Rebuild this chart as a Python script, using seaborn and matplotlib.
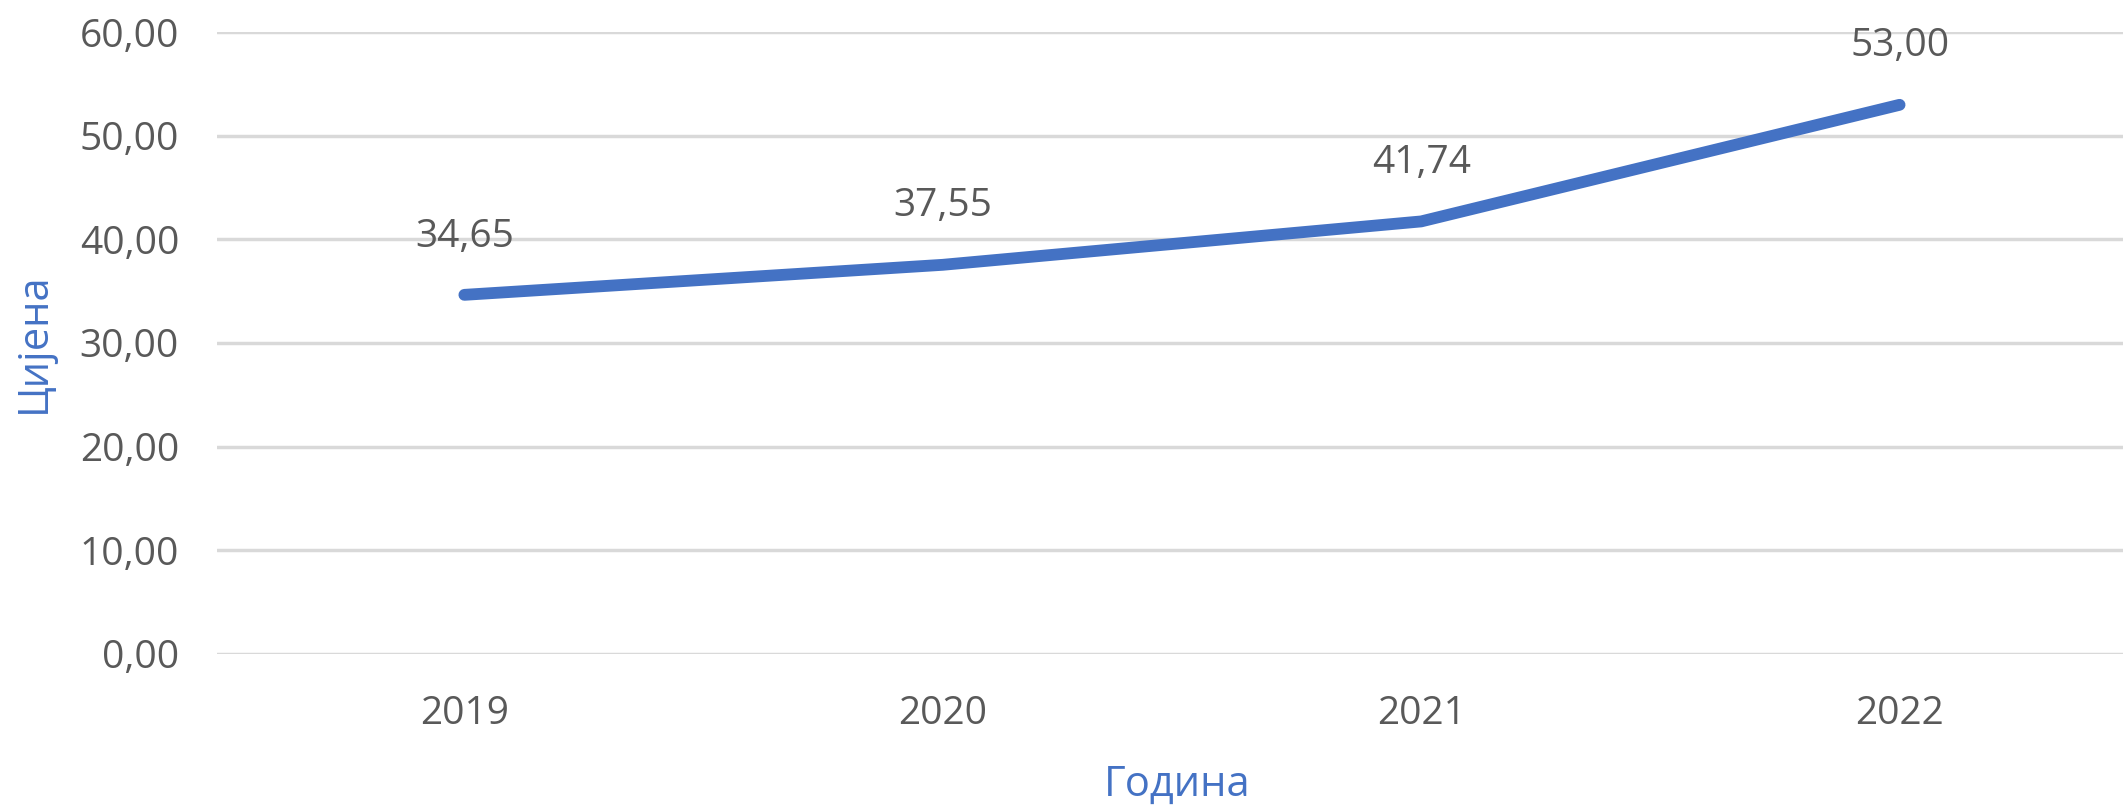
import pandas as pd
import matplotlib
matplotlib.use("Agg")
import matplotlib.pyplot as plt
import seaborn as sns

# Податци графикона
godine = ["2019", "2020", "2021", "2022"]
cijene = [34.65, 37.55, 41.74, 53.00]
y_ticks = [0, 10, 20, 30, 40, 50, 60]

BLUE = "#4472C4"
GREY_TEXT = "#595959"
GRID = "#D9D9D9"

sns.set_theme(style="white")
plt.rcParams["font.family"] = ["Open Sans", "DejaVu Sans"]

df = pd.DataFrame({"Година": godine, "Цијена": cijene})

fig = plt.figure(figsize=(21.23, 8.08), dpi=100)
ax = fig.add_axes([0.102, 0.191, 0.898, 0.769])

sns.lineplot(data=df, x="Година", y="Цијена", ax=ax, color=BLUE,
             linewidth=8.5, solid_capstyle="round", solid_joinstyle="round",
             zorder=3)

# ознаке вриједности изнад тачака
for i, v in enumerate(cijene):
    ax.annotate(f"{v:.2f}".replace(".", ","), xy=(i, v), xytext=(0, 42),
                textcoords="offset points", ha="center", va="center",
                fontsize=28, color=GREY_TEXT)

ax.set_ylim(0, 60)
ax.set_xlim(-0.518, 3.467)
ax.set_yticks(y_ticks)
ax.set_yticklabels([f"{t:.2f}".replace(".", ",") for t in y_ticks])
ax.yaxis.grid(True, color=GRID, linewidth=2.5)
ax.xaxis.grid(False)
for s in ax.spines.values():
    s.set_visible(False)

ax.tick_params(axis="y", length=0, pad=27, labelsize=28, labelcolor=GREY_TEXT)
ax.tick_params(axis="x", length=0, pad=30, labelsize=28, labelcolor=GREY_TEXT)

ax.set_xlabel("Година", fontsize=30, color=BLUE)
ax.set_ylabel("Цијена", fontsize=30, color=BLUE)
ax.xaxis.set_label_coords(0.504, -0.211)
ax.yaxis.set_label_coords(-0.096, 0.5)
ax.xaxis.label.set_va("center")
ax.yaxis.label.set_va("center")

fig.savefig("out.png", dpi=100)
plt.close(fig)
